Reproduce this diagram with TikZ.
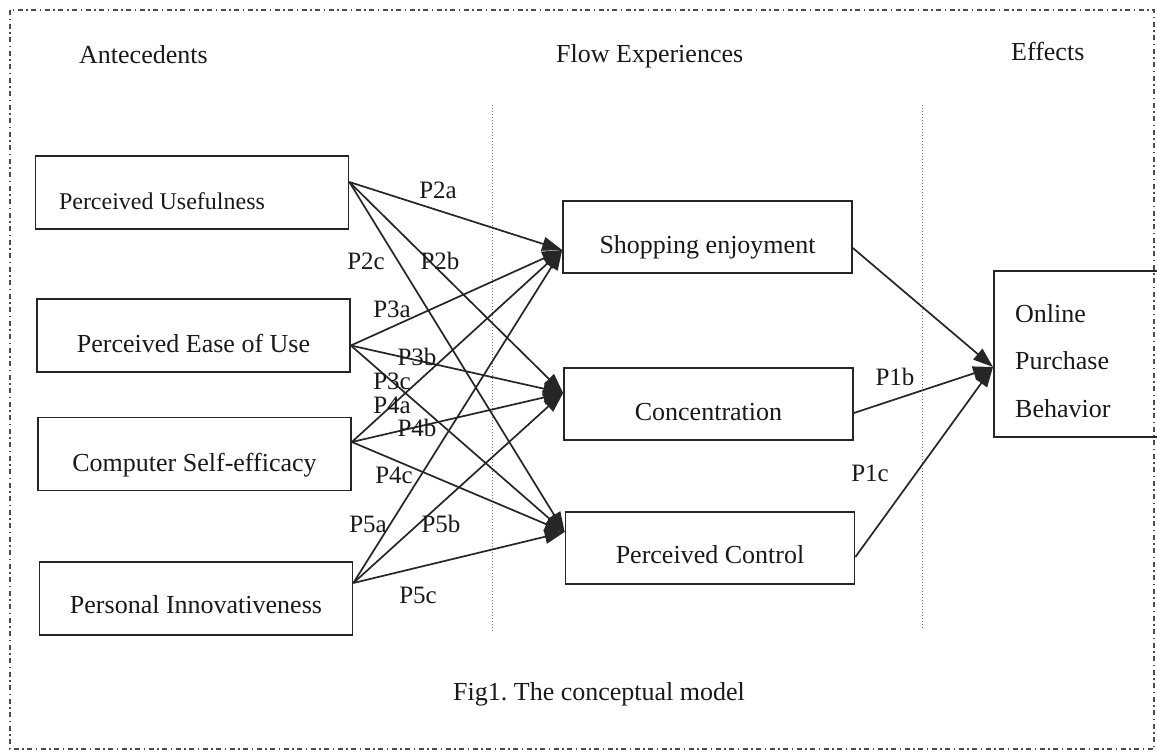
\documentclass[tikz,border=0pt]{standalone}
\usepackage{fontspec}
\setmainfont{Liberation Serif}
\usetikzlibrary{arrows.meta}
\frenchspacing
% box text sits below the box centre, with its baseline lowered by #1
\newcommand{\boxlabel}[2]{\raisebox{-#1}[0pt][0pt]{#2}}
\begin{document}
\begin{tikzpicture}[x=1pt,y=-1pt,
  every node/.style={text=black!90},
  box/.style={draw=black!85, line width=1.7pt, minimum width=313pt, minimum height=73pt,
    inner sep=0pt, font=\fontsize{26}{31}\selectfont},
  flowbox/.style={box, minimum width=289pt, minimum height=72pt},
  link/.style={draw=black!85, line width=1.7pt, -{Triangle[length=20pt,width=14pt]}},
  plab/.style={font=\fontsize{25}{30}\selectfont, inner sep=0pt, anchor=base},
  head/.style={font=\fontsize{26}{31}\selectfont, inner sep=0pt, anchor=base west},
  divider/.style={draw=black!55, line width=1pt, dotted},
  frame/.style={draw=black!70, line width=1.4pt, dash pattern=on 5pt off 3.5pt on 1.5pt off 3.5pt}
]
\useasboundingbox (0,0) rectangle (1157,753);
\fill[white] (0,0) rectangle (1157,753);

% outer dash-dot frame
\draw[frame] (10,10) rectangle (1154,749);

% column dividers
\draw[divider] (492,105) -- (492,632);
\draw[divider] (922,105) -- (922,630);

% column headings
\node[head] (hant) at (79,63) {Antecedents};
\node[head] (hflow) at (556,62) {Flow Experiences};
\node[head] (heff) at (1011,60) {Effects};

% antecedents
\node[box] (pu) at (192,192.5) {\makebox[266pt][l]{\boxlabel{16.5pt}{\fontsize{24}{29}\selectfont Perceived Usefulness}}};
\node[box] (peou) at (193.5,335.5) {\boxlabel{16.5pt}{Perceived Ease of Use}};
\node[box] (cse) at (194.5,454) {\boxlabel{17.5pt}{Computer Self-efficacy}};
\node[box] (pi) at (196,598.5) {\boxlabel{14.5pt}{Personal Innovativeness}};

% flow experiences
\node[flowbox] (se) at (707.5,237) {\boxlabel{16pt}{Shopping enjoyment}};
\node[flowbox] (conc) at (708.5,404) {\boxlabel{16pt}{Concentration}};
\node[flowbox] (pc) at (710,548) {\boxlabel{15pt}{Perceived Control}};

% effect
\node[draw=black!85, line width=1.7pt, minimum width=175pt, minimum height=166pt, inner sep=0pt,
  anchor=west] (opb) at (993,354) {};
\node[font=\fontsize{26}{47.5}\selectfont, inner sep=0pt, anchor=base west] (opbtext) at (1015,322)
  {\begin{tabular}[t]{@{}l@{}}Online\\Purchase\\Behavior\end{tabular}};

% antecedents -> flow experiences
\draw[link] ([yshift=10.5pt]pu.east) -- ([yshift=-13pt]se.west);
\draw[link] ([yshift=10.5pt]pu.east) -- ([yshift=11pt]conc.west);
\draw[link] ([yshift=10.5pt]pu.east) -- ([yshift=16pt]pc.west);
\draw[link] ([yshift=-10pt]peou.east) -- ([yshift=-13pt]se.west);
\draw[link] ([yshift=-10pt]peou.east) -- ([yshift=11pt]conc.west);
\draw[link] ([yshift=-10pt]peou.east) -- ([yshift=16pt]pc.west);
\draw[link] ([yshift=12pt]cse.east) -- ([yshift=-13pt]se.west);
\draw[link] ([yshift=12pt]cse.east) -- ([yshift=11pt]conc.west);
\draw[link] ([yshift=12pt]cse.east) -- ([yshift=16pt]pc.west);
\draw[link] ([yshift=15.5pt]pi.east) -- ([yshift=-13pt]se.west);
\draw[link] ([yshift=15.5pt]pi.east) -- ([yshift=11pt]conc.west);
\draw[link] ([yshift=15.5pt]pi.east) -- ([yshift=16pt]pc.west);

% flow experiences -> effect
\draw[link] ([yshift=-11pt]se.east) -- ([yshift=-13pt]opb.west);
\draw[link] ([yshift=-9pt]conc.east) -- ([yshift=-13pt]opb.west);
\draw[link] ([yshift=-9pt]pc.east) -- ([yshift=-13pt]opb.west);

% path labels
\node[plab] (p2a) at (438,198) {P2a};
\node[plab] (p2c) at (366,269) {P2c};
\node[plab] (p2b) at (440,269) {P2b};
\node[plab] (p3a) at (392,317) {P3a};
\node[plab] (p3b) at (417,365) {P3b};
\node[plab] (p3c) at (392,389) {P3c};
\node[plab] (p4a) at (392,413) {P4a};
\node[plab] (p4b) at (417,436) {P4b};
\node[plab] (p4c) at (394,483) {P4c};
\node[plab] (p5a) at (368,532) {P5a};
\node[plab] (p5b) at (441,532) {P5b};
\node[plab] (p5c) at (418,603) {P5c};
\node[plab] (p1b) at (895,385) {P1b};
\node[plab] (p1c) at (870,481) {P1c};

% caption
\node[font=\fontsize{26}{31}\selectfont, inner sep=0pt, anchor=base west] (caption) at (453,700)
  {Fig1. The conceptual model};
\end{tikzpicture}
\end{document}
